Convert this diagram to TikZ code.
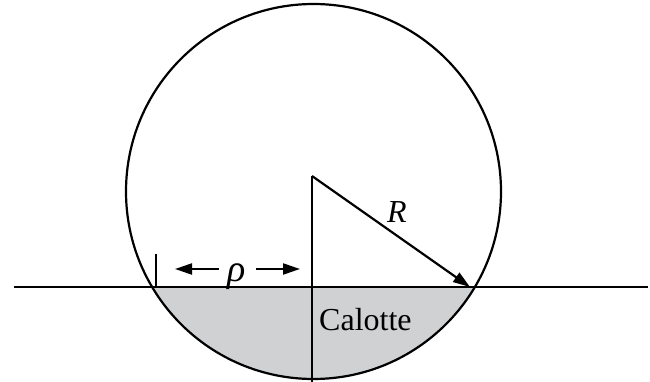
\documentclass[tikz,border=0pt]{standalone}
\usepackage{fontspec}
\setmainfont{Liberation Serif}
\usetikzlibrary{arrows.meta}
\definecolor{calgray}{RGB}{208,209,211}
\tikzset{
  line/.style={line width=2.2pt, black},
  arr/.style={line width=2.2pt, -{Triangle[length=17pt,width=11pt]}},
  lbl/.style={inner sep=0pt, font=\fontsize{32}{32}\selectfont}
}
\begin{document}
\begin{tikzpicture}[x=1pt,y=-1pt]
\useasboundingbox (0,0) rectangle (650,382);
\coordinate (C) at (313.5,191.5);
\coordinate (L) at (14,287);
\coordinate (Rt) at (648,287);
\coordinate (top) at (312,176);
\coordinate (bot) at (312,382);
\coordinate (tip) at (470,287);
\coordinate (tickA) at (156,254);
\coordinate (tickB) at (156,287);
\coordinate (la) at (219,269);
\coordinate (lb) at (175,269);
\coordinate (ra) at (256,269);
\coordinate (rb) at (300,269);
% gray segment
\begin{scope}
  \clip (0,287) rectangle (650,382);
  \fill[calgray] (C) circle (187.5);
\end{scope}
\draw[line] (C) circle (187.5);
\draw[line] (L) -- (Rt);
\draw[line] (top) -- (bot);
\draw[arr] (top) -- (tip);
\draw[line] (tickA) -- (tickB);
\draw[arr] (la) -- (lb);
\draw[arr] (ra) -- (rb);
\node[lbl, font=\fontsize{38}{38}\selectfont] (rho) at (237,277) {\itshape ρ};
\node[lbl] (Rl) at (397,212) {\itshape R};
\node[lbl, anchor=west] (cal) at (319,320) {Calotte};
\end{tikzpicture}
\end{document}
